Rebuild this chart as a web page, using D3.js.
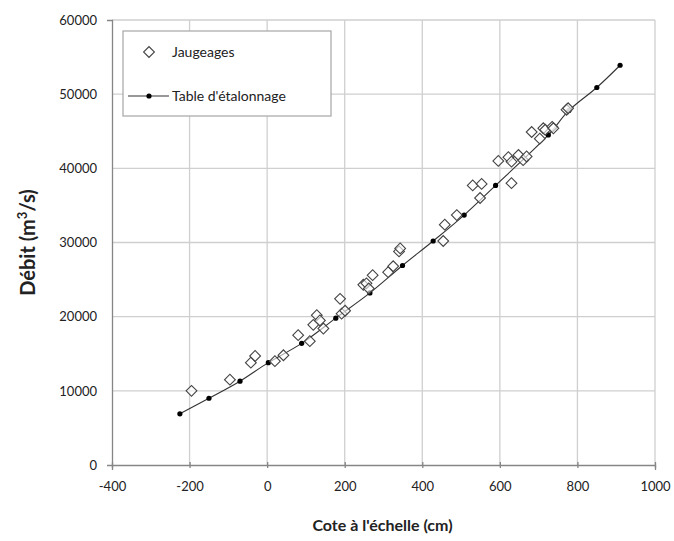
<!DOCTYPE html>
<html lang="fr">
<head>
<meta charset="UTF-8">
<title>Courbe de tarage</title>
<style>
  body { margin: 0; background: #fff; }
  svg text { font-family: Lato, "Open Sans", sans-serif; fill: #222; }
</style>
</head>
<body>
<div id="chart"></div>
<script src="https://d3js.org/d3.v7.min.js"></script>
<script>
// Jaugeages (cote en cm, débit en m3/s)
var jaugeCote = [-195, -96, -42, -31, 20, 42, 80, 110, 119, 128, 136, 145, 188, 192, 201,
  248, 256, 262, 272, 312, 325, 340, 343, 454, 458, 489, 530, 549, 553,
  596, 622, 630, 630, 648, 660, 669, 682, 703, 712, 717, 735, 738, 772, 776];
var jaugeDebit = [10000, 11500, 13800, 14700, 14000, 14800, 17500, 16700, 18900, 20200, 19500, 18400, 22400, 20400, 20800,
  24300, 24500, 23800, 25600, 26000, 26800, 28800, 29200, 30200, 32400, 33700, 37700, 36000, 37900,
  41000, 41500, 40900, 38000, 41800, 41100, 41600, 44900, 44000, 45400, 45200, 45600, 45400, 47900, 48100];

// Table d'étalonnage
var tableCote = [-225, -150, -70, 3, 89, 177, 265, 349, 428, 508, 589, 725, 778, 850, 910];
var tableDebit = [6900, 9000, 11300, 13800, 16400, 19800, 23200, 26900, 30200, 33700, 37700, 44500, 47800, 50900, 53900];

var xTicks = [-400, -200, 0, 200, 400, 600, 800, 1000];
var yTicks = [0, 10000, 20000, 30000, 40000, 50000, 60000];

var width = 674, height = 541;
var margin = { top: 20, right: 19, bottom: 76, left: 112 };
var w = width - margin.left - margin.right,
    h = height - margin.top - margin.bottom;

var svg = d3.select("#chart").append("svg")
  .attr("width", width)
  .attr("height", height);

var g = svg.append("g")
  .attr("transform", "translate(" + margin.left + "," + margin.top + ")");

var x = d3.scaleLinear().domain([-400, 1000]).range([0, w]);
var y = d3.scaleLinear().domain([0, 60000]).range([h, 0]);

// grid
g.append("g").selectAll("line")
  .data(xTicks.slice(1))
  .enter().append("line")
  .attr("x1", function (d) { return x(d); })
  .attr("x2", function (d) { return x(d); })
  .attr("y1", 0).attr("y2", h)
  .attr("stroke", "#cfcfcf").attr("stroke-width", 1.3);
g.append("g").selectAll("line")
  .data(yTicks.slice(1))
  .enter().append("line")
  .attr("x1", 0).attr("x2", w)
  .attr("y1", function (d) { return y(d); })
  .attr("y2", function (d) { return y(d); })
  .attr("stroke", "#cfcfcf").attr("stroke-width", 1.3);

// axes (plain hyphen for negatives, like the original)
var fmt = function (d) { return String(d); };
var xAxis = g.append("g")
  .attr("transform", "translate(0," + h + ")")
  .call(d3.axisBottom(x).tickValues(xTicks).tickSize(5).tickPadding(12).tickFormat(fmt));
var yAxis = g.append("g")
  .call(d3.axisLeft(y).tickValues(yTicks).tickSize(5).tickPadding(10).tickFormat(fmt));
[xAxis, yAxis].forEach(function (a) {
  a.select(".domain").attr("stroke", "#868686").attr("stroke-width", 1.3);
  a.selectAll(".tick line").attr("stroke", "#868686").attr("stroke-width", 1.3);
  a.selectAll(".tick text").style("font-size", "13px").attr("fill", "#222");
});
xAxis.selectAll(".tick line").attr("y1", -3).attr("y2", 3);
yAxis.selectAll(".tick line").style("display", "none");

// calibration curve
var line = d3.line()
  .x(function (d, i) { return x(tableCote[i]); })
  .y(function (d, i) { return y(tableDebit[i]); })
  .curve(d3.curveCatmullRom);

g.append("path")
  .datum(tableCote)
  .attr("d", line)
  .attr("fill", "none")
  .attr("stroke", "#333")
  .attr("stroke-width", 1.1);

g.append("g").selectAll("circle")
  .data(tableCote)
  .enter().append("circle")
  .attr("cx", function (d) { return x(d); })
  .attr("cy", function (d, i) { return y(tableDebit[i]); })
  .attr("r", 2.6)
  .attr("fill", "#000");

// gaugings
var diamond = d3.symbol().type(d3.symbolSquare).size(58);
g.append("g").selectAll("path")
  .data(jaugeCote)
  .enter().append("path")
  .attr("d", diamond)
  .attr("transform", function (d, i) {
    return "translate(" + x(d) + "," + y(jaugeDebit[i]) + ") rotate(45)";
  })
  .attr("fill", "#fff")
  .attr("fill-opacity", 0.6)
  .attr("stroke", "#444")
  .attr("stroke-width", 1.1);

// axis titles
svg.append("text")
  .attr("x", margin.left + w / 2 - 1)
  .attr("y", 531)
  .attr("text-anchor", "middle")
  .style("font-size", "16px")
  .style("font-weight", "bold")
  .text("Cote à l'échelle (cm)");

var yt = svg.append("text")
  .attr("transform", "translate(35," + (margin.top + h / 2) + ") rotate(-90)")
  .attr("text-anchor", "middle")
  .style("font-size", "20px")
  .style("font-weight", "bold");
yt.append("tspan").text("Débit (m");
yt.append("tspan").attr("dy", -8).style("font-size", "13px").text("3");
yt.append("tspan").attr("dy", 8).text("/s)");

// legend
var leg = svg.append("g").attr("transform", "translate(123,31)");
leg.append("rect")
  .attr("width", 208).attr("height", 85)
  .attr("fill", "#fff")
  .attr("stroke", "#a6a6a6")
  .attr("stroke-width", 1.2);
leg.append("path")
  .attr("d", diamond)
  .attr("transform", "translate(26,21) rotate(45)")
  .attr("fill", "#fff").attr("stroke", "#444").attr("stroke-width", 1.1);
leg.append("text").attr("x", 49).attr("y", 26).style("font-size", "14px").text("Jaugeages");
leg.append("line")
  .attr("x1", 5).attr("x2", 46).attr("y1", 65).attr("y2", 65)
  .attr("stroke", "#333").attr("stroke-width", 1.1);
leg.append("circle").attr("cx", 26).attr("cy", 65).attr("r", 2.6).attr("fill", "#000");
leg.append("text").attr("x", 49).attr("y", 70).style("font-size", "14px").text("Table d'étalonnage");
</script>
</body>
</html>
